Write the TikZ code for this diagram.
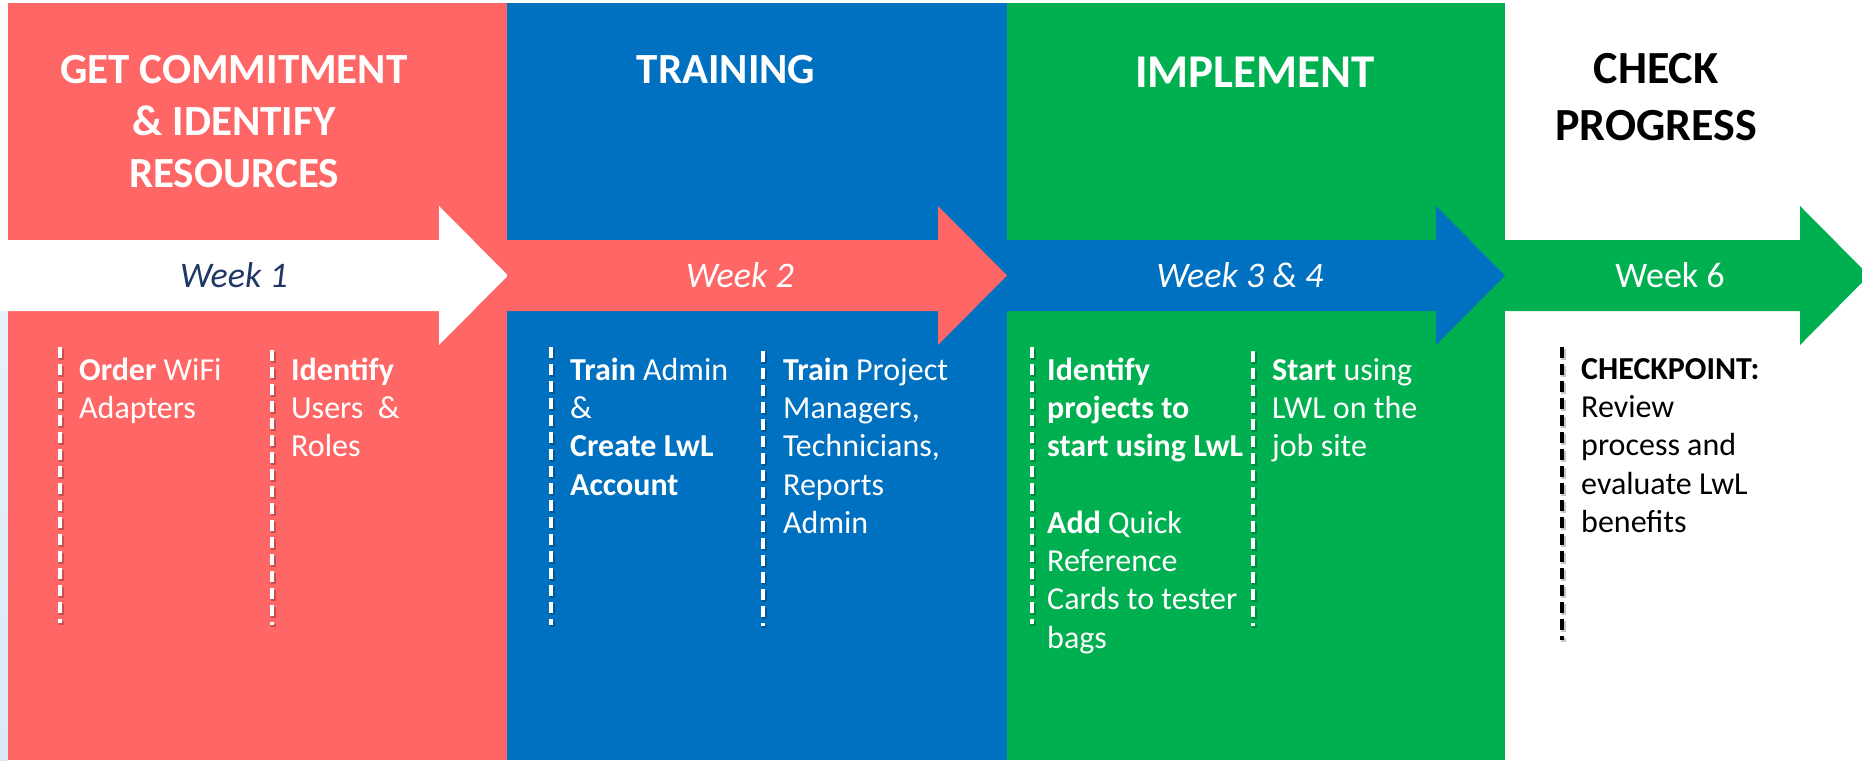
\documentclass[tikz,border=0pt]{standalone}
\usepackage{fontspec}
\setmainfont{Carlito}
\definecolor{cred}{HTML}{FF6666}
\definecolor{cblue}{HTML}{0070C0}
\definecolor{cgreen}{HTML}{00B050}
\definecolor{cnavy}{HTML}{1F3864}
\definecolor{cpale}{HTML}{DCEAF6}
\newcommand\fstrut[1]{\rule{0pt}{#1pt}}
\newcommand\wkarrow[3]{\fill[#3] (#1,240) -- (#2-69,240) -- (#2-69,206) -- (#2,275.5) -- (#2-69,345) -- (#2-69,311) -- (#1,311) -- cycle;}
\newcommand\dline[4]{%
  \draw[dshadow] (#1+1.5,#2+1.5) -- (#1+1.5,#3+1.5);
  \draw[dashline,#4] (#1,#2) -- (#1,#3);}
\tikzset{
  head/.style={font=\fontsize{43}{52}\selectfont\bfseries, align=center, inner sep=0pt, anchor=north, text=white},
  body/.style={font=\fontsize{32}{38.3}\selectfont, align=left, inner sep=0pt, anchor=north west, text=white},
  wk/.style={font=\fontsize{36}{40}\selectfont, inner sep=0pt, anchor=base, text=white},
  dashline/.style={line width=4pt, dash pattern=on 11pt off 6pt},
  dshadow/.style={line width=5pt, dash pattern=on 11pt off 6pt, black, opacity=0.22},
}
\begin{document}
\begin{tikzpicture}[x=1pt,y=-1pt]
\clip (0,0) rectangle (1862,760);
\fill[white] (0,0) rectangle (1862,760);
% left pale strip
\fill[white!97!gray] (0,3) rectangle (8,240);
\shade[top color=cpale!70!white, bottom color=cpale] (0,311) rectangle (8,760);
% panels
\fill[cred] (8,3) rectangle (507,760);
\fill[cblue] (507,3) rectangle (1007,760);
\fill[cgreen] (1007,3) rectangle (1505,760);
% arrows
\wkarrow{0}{508}{white}
\wkarrow{507}{1007}{cred}
\wkarrow{1007}{1505}{cblue}
\wkarrow{1505}{1869}{cgreen}
% headings
\node[head] (h1) at (234,47) {\fstrut{36}GET COMMITMENT\\ \& IDENTIFY\\ RESOURCES};
\node[head] (h2) at (726,47) {\fstrut{36}TRAINING};
\node[head, font=\fontsize{47}{52}\selectfont\bfseries] (h3) at (1255,48) {\fstrut{39}IMPLEMENT};
\node[head, text=black, font=\fontsize{46}{57}\selectfont\bfseries] (h4) at (1656,45) {\fstrut{38}CHECK\\ PROGRESS};
% week labels
\node[wk, text=cnavy, font=\fontsize{36}{40}\selectfont\itshape] (w1) at (234,287) {Week 1};
\node[wk, font=\fontsize{36}{40}\selectfont\itshape] (w2) at (740,287) {Week 2};
\node[wk, font=\fontsize{36}{40}\selectfont\itshape] (w3) at (1240,287) {Week 3 \& 4};
\node[wk] (w4) at (1670,287) {Week 6};
% dashed separators
\dline{60}{347}{623}{white}
\dline{272}{350}{625}{white}
\dline{551}{347}{625}{white}
\dline{763}{351}{626}{white}
\dline{1032}{347}{624}{white}
\dline{1253}{351}{626}{white}
\dline{1562}{347}{640}{black}
% body texts
\node[body] (t1) at (79,352) {\fstrut{28}\textbf{Order} WiFi\\ Adapters};
\node[body] (t2) at (291,352) {\fstrut{28}\textbf{Identify}\\ Users\ \ \&\\ Roles};
\node[body] (t3) at (570,352) {\fstrut{28}\textbf{Train} Admin\\ \&\\ \textbf{Create LwL}\\ \textbf{Account}};
\node[body] (t4) at (783,352) {\fstrut{28}\textbf{Train} Project\\ Managers,\\ Technicians,\\ Reports\\ Admin};
\node[body] (t5) at (1047,352) {\fstrut{28}\textbf{Identify}\\ \textbf{projects to}\\ \textbf{start using LwL}};
\node[body] (t6) at (1047,505) {\fstrut{28}\textbf{Add} Quick\\ Reference\\ Cards to tester\\ bags};
\node[body] (t7) at (1272,352) {\fstrut{28}\textbf{Start} using\\ LWL on the\\ job site};
\node[body, text=black] (t8) at (1581,351) {\fstrut{28}\textbf{CHECKPOINT:}\\ Review\\ process and\\ evaluate LwL\\ benefits};
\end{tikzpicture}
\end{document}
